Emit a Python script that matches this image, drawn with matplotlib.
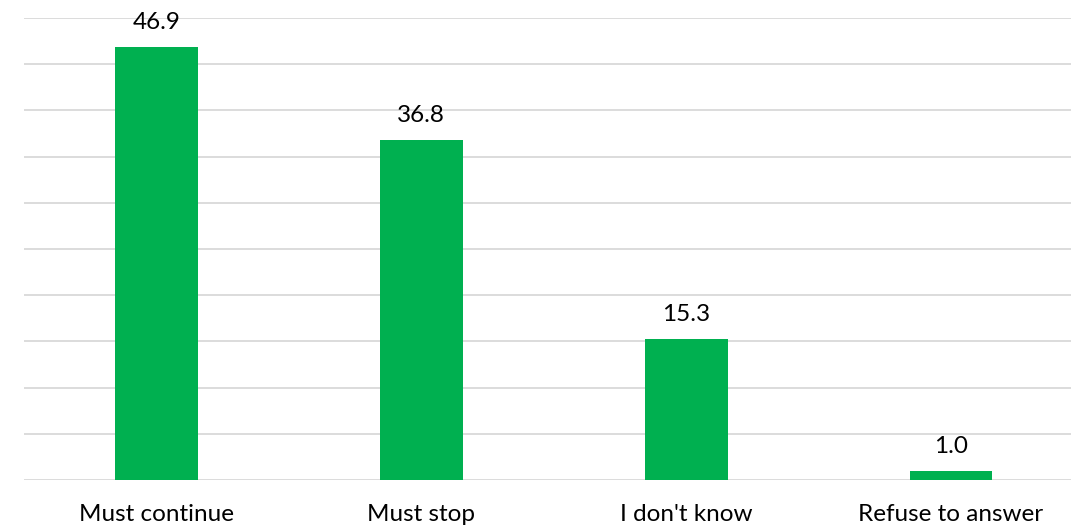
import matplotlib.pyplot as plt

categories = ['Must continue', 'Must stop', "I don't know", 'Refuse to answer']
values = [46.9, 36.8, 15.3, 1.0]

plt.rcParams['font.family'] = ['Lato', 'DejaVu Sans']

fig = plt.figure(figsize=(10.71, 5.26), dpi=100)
ax = fig.add_axes([24 / 1071, 46 / 526, 1047 / 1071, 462 / 526])

x = range(len(categories))
bars = ax.bar(x, values, width=0.313, color='#00B050', zorder=3)

for b, v in zip(bars, values):
    ax.annotate(f'{v:.1f}', (b.get_x() + b.get_width() / 2, v),
                xytext=(0, 10), textcoords='offset points',
                ha='center', va='bottom', fontsize=17.5, color='#000000')

ax.set_xlim(-0.5, 3.453)
ax.set_ylim(0, 50)
ax.set_yticks(range(0, 51, 5))
ax.yaxis.grid(True, color='#d9d9d9', linewidth=1.3, zorder=0)
ax.set_yticklabels([])
ax.tick_params(axis='y', length=0)
ax.set_xticks(list(x))
ax.set_xticklabels(categories, fontsize=17.5)
ax.tick_params(axis='x', length=0, pad=17)
for s in ax.spines.values():
    s.set_visible(False)

fig.savefig('out.png', dpi=100)
